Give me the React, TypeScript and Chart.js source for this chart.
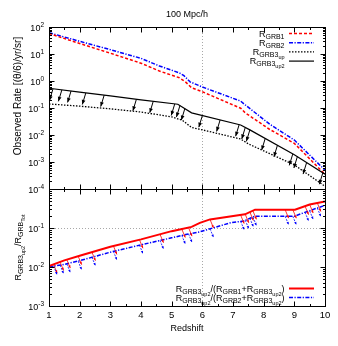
import React, { useEffect, useRef } from 'react';
import { Chart, registerables } from 'chart.js';

Chart.register(...registerables);

// ---------- data ----------
const zGrb1 = [1, 2, 3, 4, 4.6, 5.25, 5.45, 5.65, 6, 7.25, 7.4, 8.2, 9.0, 10];
const rGrb1 = [57.5, 24.5, 10.7, 4.57, 2.34, 1.32, 0.93, 0.56, 0.40, 0.098, 0.066, 0.016, 0.0049, 0.00035];

const zGrb2 = [1, 2, 3, 4, 4.6, 5.25, 5.4, 5.6, 6, 7.25, 7.4, 8.2, 9.0, 10];
const rGrb2 = [61.7, 29.5, 14.5, 6.9, 3.6, 2.0, 1.58, 0.93, 0.60, 0.18, 0.13, 0.025, 0.0065, 0.0005];

const zGrb3up = [1, 2, 3, 4, 5.0, 5.35, 5.65, 6, 7.25, 7.5, 9.0, 10];
const rGrb3up = [0.141, 0.117, 0.093, 0.071, 0.047, 0.035, 0.019, 0.0155, 0.0071, 0.0047, 0.00078, 0.000126];

const zGrb3up2 = [1, 2, 3, 4, 5.2, 5.65, 7.25, 7.55, 9.0, 10];
const rGrb3up2 = [0.54, 0.39, 0.28, 0.20, 0.138, 0.066, 0.0234, 0.0155, 0.00186, 0.000355];

// upper-limit arrows hanging from R_GRB3_up2
const zLimTop = [1.13, 1.42, 1.72, 2.2, 2.8, 3.85, 4.4, 5.1, 5.27, 5.43, 6.0, 6.58, 7.2, 7.4, 7.55, 8.05, 8.45, 8.95, 9.1, 9.4, 9.93];
const rLimTop = [0.51, 0.47, 0.43, 0.36, 0.30, 0.21, 0.178, 0.141, 0.123, 0.095, 0.052, 0.036, 0.024, 0.019, 0.0155, 0.0074, 0.0042, 0.0020, 0.0016, 0.00095, 0.0004];

// ratio panel
const zRatio1 = [1, 1.5, 2, 3, 4, 5, 5.3, 5.65, 5.92, 6.25, 7.39, 7.72, 9.02, 9.5, 10];
const ratio1 = [0.0105, 0.0148, 0.0195, 0.033, 0.051, 0.083, 0.093, 0.107, 0.135, 0.166, 0.224, 0.295, 0.295, 0.40, 0.48];

const zRatio2 = [1, 1.5, 2, 3, 4, 5, 5.5, 5.9, 6.9, 7.35, 7.7, 9.0, 9.45, 10];
const ratio2 = [0.0100, 0.0117, 0.0145, 0.024, 0.037, 0.056, 0.069, 0.079, 0.135, 0.151, 0.20, 0.20, 0.27, 0.38];

const zLimBot = [1.15, 1.36, 1.58, 1.95, 2.4, 3.1, 3.95, 4.62, 5.33, 5.55, 6.25, 7.25, 7.4, 7.55, 7.65, 8.7, 8.95, 9.35, 9.5, 9.75];
const limRatio1 = [0.0116, 0.0135, 0.0155, 0.019, 0.024, 0.0347, 0.050, 0.069, 0.094, 0.102, 0.166, 0.214, 0.224, 0.257, 0.275, 0.295, 0.295, 0.363, 0.40, 0.437];
const limRatio2 = [0.0105, 0.0112, 0.012, 0.0141, 0.0178, 0.0251, 0.0363, 0.0479, 0.0646, 0.0708, 0.0955, 0.148, 0.158, 0.178, 0.19, 0.20, 0.20, 0.251, 0.275, 0.324];

// ticks
const xMajor = [1, 2, 3, 4, 5, 6, 7, 8, 9, 10];
const xMinor = [1.5, 2.5, 3.5, 4.5, 5.5, 6.5, 7.5, 8.5, 9.5];
const topDecades = [2, 1, 0, -1, -2, -3, -4];
const botDecades = [0, -1, -2, -3];
const botLabelled = [-1, -2, -3];
const refZ = 6;
const refRatio = 0.1;

const TITLE = '100 Mpc/h';
const X_TITLE = 'Redshift';
const Y_TITLE_TOP = 'Observed Rate [(θ/6)/yr/sr]';

// ---------- text helpers ----------
const FONT = '"Liberation Sans", Arial, Helvetica, sans-serif';
type Seg = [string, number, number];
const M = (t: string): Seg => [t, 9, 0];
const S1 = (t: string): Seg => [t, 7, 2.2];
const S2 = (t: string): Seg => [t, 5.5, 4.2];

const lblGrb1: Seg[] = [M('R'), S1('GRB1')];
const lblGrb2: Seg[] = [M('R'), S1('GRB2')];
const lblGrb3up: Seg[] = [M('R'), S1('GRB3'), S2('up')];
const lblGrb3up2: Seg[] = [M('R'), S1('GRB3'), S2('up2')];
const lblRatio1: Seg[] = [M('R'), S1('GRB3'), S2('up2'), M('/('), M('R'), S1('GRB1'), M('+'), M('R'), S1('GRB3'), S2('up2'), M(')')];
const lblRatio2: Seg[] = [M('R'), S1('GRB3'), S2('up2'), M('/('), M('R'), S1('GRB2'), M('+'), M('R'), S1('GRB3'), S2('up2'), M(')')];
const lblYBot: Seg[] = [M('R'), S1('GRB3'), S2('up2'), M('/'), M('R'), S1('GRB'), S2('Tot')];

function richWidth(ctx: CanvasRenderingContext2D, segs: Seg[]) {
  let w = 0;
  for (const [t, s] of segs) {
    ctx.font = `${s}px ${FONT}`;
    w += ctx.measureText(t).width;
  }
  return w;
}
function drawRich(ctx: CanvasRenderingContext2D, segs: Seg[], x: number, y: number, align: 'left' | 'right' | 'center') {
  const w = richWidth(ctx, segs);
  let cx = align === 'right' ? x - w : align === 'center' ? x - w / 2 : x;
  ctx.textAlign = 'left';
  ctx.textBaseline = 'alphabetic';
  for (const [t, s, dy] of segs) {
    ctx.font = `${s}px ${FONT}`;
    ctx.fillText(t, cx, y + dy);
    cx += ctx.measureText(t).width;
  }
}
function seg(ctx: CanvasRenderingContext2D, x0: number, y0: number, x1: number, y1: number) {
  ctx.beginPath();
  ctx.moveTo(x0, y0);
  ctx.lineTo(x1, y1);
  ctx.stroke();
}
function arrow(ctx: CanvasRenderingContext2D, x0: number, y0: number, x1: number, y1: number, head: number, dash: number[]) {
  ctx.setLineDash(dash);
  seg(ctx, x0, y0, x1, y1);
  ctx.setLineDash([]);
  const a = Math.atan2(y1 - y0, x1 - x0);
  const hw = head * 0.42;
  const bx = x1 - head * Math.cos(a);
  const by = y1 - head * Math.sin(a);
  const nx = -Math.sin(a);
  const ny = Math.cos(a);
  ctx.beginPath();
  ctx.moveTo(x1, y1);
  ctx.lineTo(bx + nx * hw, by + ny * hw);
  ctx.lineTo(bx - nx * hw, by - ny * hw);
  ctx.closePath();
  ctx.fill();
}

const mk = (zs: number[], vs: number[]) => zs.map((z, i) => ({ x: z, y: vs[i] }));

const DASH_RED = [3, 2];
const DASH_BLUE = [4, 1.5, 1.2, 1.5];
const DASH_DOT = [1.5, 1.5];

const framePlugin = {
  id: 'gnuplotFrame',
  beforeDatasetsDraw(chart: any) {
    const ctx: CanvasRenderingContext2D = chart.ctx;
    const x = chart.scales.x;
    const yT = chart.scales.yTop;
    const yB = chart.scales.yBot;
    const { left, right } = chart.chartArea;
    ctx.save();
    ctx.strokeStyle = '#a8a8a8';
    ctx.lineWidth = 1;
    ctx.setLineDash([1, 2]);
    const gx = Math.round(x.getPixelForValue(refZ)) + 0.5;
    seg(ctx, gx, yT.top, gx, yB.bottom);
    const gy = Math.round(yB.getPixelForValue(refRatio)) + 0.5;
    seg(ctx, left, gy, right, gy);
    ctx.restore();
  },
  afterDatasetsDraw(chart: any) {
    const ctx: CanvasRenderingContext2D = chart.ctx;
    const x = chart.scales.x;
    const yT = chart.scales.yTop;
    const yB = chart.scales.yBot;
    const { left, right } = chart.chartArea;
    ctx.save();

    // upper-limit arrows, top panel
    ctx.strokeStyle = '#000';
    ctx.fillStyle = '#000';
    ctx.lineWidth = 1;
    zLimTop.forEach((z, i) => {
      const px = x.getPixelForValue(z);
      const py = yT.getPixelForValue(rLimTop[i]);
      arrow(ctx, px, py, px - 3.5, py + 11.5, 4.5, []);
    });
    // upper-limit arrows, ratio panel
    ctx.lineWidth = 0.8;
    ctx.strokeStyle = '#ff0000';
    ctx.fillStyle = '#ff0000';
    zLimBot.forEach((z, i) => {
      const px = x.getPixelForValue(z);
      const py = yB.getPixelForValue(limRatio1[i]);
      arrow(ctx, px, py, px + 3.5, py + 8.5, 2.8, []);
    });
    ctx.strokeStyle = '#0000ff';
    ctx.fillStyle = '#0000ff';
    zLimBot.forEach((z, i) => {
      const px = x.getPixelForValue(z);
      const py = yB.getPixelForValue(limRatio2[i]);
      arrow(ctx, px, py, px + 3.5, py + 8.5, 2.8, [2, 1.2]);
    });

    // frames
    ctx.strokeStyle = '#000';
    ctx.lineWidth = 1;
    ctx.setLineDash([]);
    const L = Math.round(left) + 0.5;
    const R = Math.round(right) + 0.5;
    const tT = Math.round(yT.top) + 0.5;
    const tB = Math.round(yT.bottom) + 0.5;
    const bB = Math.round(yB.bottom) + 0.5;
    ctx.strokeRect(L, tT, R - L, tB - tT);
    ctx.strokeRect(L, tB, R - L, bB - tB);

    // x ticks (inward, on every horizontal border)
    const xt = (v: number, len: number) => {
      const px = Math.round(x.getPixelForValue(v)) + 0.5;
      seg(ctx, px, tT, px, tT + len);
      seg(ctx, px, tB, px, tB - len);
      seg(ctx, px, tB, px, tB + len);
      seg(ctx, px, bB, px, bB - len);
    };
    xMajor.forEach((v) => xt(v, 5));
    xMinor.forEach((v) => xt(v, 2.5));

    // y ticks (log, inward on both sides)
    const yt = (scale: any, decades: number[]) => {
      decades.forEach((d) => {
        for (let k = 1; k <= 9; k++) {
          const v = k * Math.pow(10, d);
          if (v < scale.min * 0.999 || v > scale.max * 1.001) continue;
          const py = Math.round(scale.getPixelForValue(v)) + 0.5;
          const len = k === 1 ? 5 : 2.5;
          seg(ctx, L, py, L + len, py);
          seg(ctx, R, py, R - len, py);
        }
      });
    };
    yt(yT, topDecades);
    yt(yB, botDecades);

    // tick labels
    ctx.fillStyle = '#000';
    topDecades.forEach((d) => {
      const py = yT.getPixelForValue(Math.pow(10, d));
      drawRich(ctx, [M('10'), [String(d), 6.5, -4.5]], 44, py + 4, 'right');
    });
    botLabelled.forEach((d) => {
      const py = yB.getPixelForValue(Math.pow(10, d));
      drawRich(ctx, [M('10'), [String(d), 6.5, -4.5]], 44, py + 4, 'right');
    });
    ctx.font = `9.5px ${FONT}`;
    ctx.textAlign = 'center';
    ctx.textBaseline = 'alphabetic';
    xMajor.forEach((v) => {
      ctx.fillText(String(v), x.getPixelForValue(v), 317.5);
    });

    // titles
    ctx.font = `9px ${FONT}`;
    ctx.fillText(X_TITLE, (left + right) / 2, 331);
    ctx.fillText(TITLE, (left + right) / 2, 17);

    ctx.save();
    ctx.translate(20.5, 96);
    ctx.rotate(-Math.PI / 2);
    ctx.font = `10px ${FONT}`;
    ctx.textAlign = 'center';
    ctx.fillText(Y_TITLE_TOP, 0, 0);
    ctx.restore();

    ctx.save();
    ctx.translate(20.5, (yB.top + yB.bottom) / 2);
    ctx.rotate(-Math.PI / 2);
    drawRich(ctx, lblYBot, 0, 0, 'center');
    ctx.restore();

    // legends
    const keyX0 = 289;
    const keyX1 = 314;
    const keyTextX = 284.5;
    const keyTop: [Seg[], string, number[], number][] = [
      [lblGrb1, '#ff0000', DASH_RED, 1.5],
      [lblGrb2, '#0000ff', DASH_BLUE, 1.5],
      [lblGrb3up, '#000000', DASH_DOT, 1.3],
      [lblGrb3up2, '#000000', [], 1.2],
    ];
    keyTop.forEach(([lbl, col, dash, w], i) => {
      const yy = 33.5 + i * 9.2;
      ctx.fillStyle = '#000';
      drawRich(ctx, lbl, keyTextX, yy + 3, 'right');
      ctx.strokeStyle = col;
      ctx.lineWidth = w;
      ctx.setLineDash(dash);
      seg(ctx, keyX0, yy, keyX1, yy);
      ctx.setLineDash([]);
    });
    const keyBot: [Seg[], string, number[], number][] = [
      [lblRatio1, '#ff0000', [], 2],
      [lblRatio2, '#0000ff', DASH_BLUE, 1.5],
    ];
    keyBot.forEach(([lbl, col, dash, w], i) => {
      const yy = 288.5 + i * 9;
      ctx.fillStyle = '#000';
      drawRich(ctx, lbl, keyTextX, yy + 3, 'right');
      ctx.strokeStyle = col;
      ctx.lineWidth = w;
      ctx.setLineDash(dash);
      seg(ctx, keyX0, yy, keyX1, yy);
      ctx.setLineDash([]);
    });
    ctx.restore();
  },
};

export default function App() {
  const ref = useRef<HTMLCanvasElement>(null);
  useEffect(() => {
    const line = (data: any, axis: string, color: string, width: number, dash: number[]) => ({
      data,
      yAxisID: axis,
      borderColor: color,
      backgroundColor: color,
      borderWidth: width,
      borderDash: dash,
      pointRadius: 0,
      fill: false,
      tension: 0,
    });
    const chart = new Chart(ref.current as HTMLCanvasElement, {
      type: 'line',
      data: {
        datasets: [
          line(mk(zGrb3up, rGrb3up), 'yTop', '#000000', 1.3, DASH_DOT),
          line(mk(zGrb3up2, rGrb3up2), 'yTop', '#000000', 1.2, []),
          line(mk(zGrb1, rGrb1), 'yTop', '#ff0000', 1.5, DASH_RED),
          line(mk(zGrb2, rGrb2), 'yTop', '#0000ff', 1.5, DASH_BLUE),
          line(mk(zRatio1, ratio1), 'yBot', '#ff0000', 2, []),
          line(mk(zRatio2, ratio2), 'yBot', '#0000ff', 1.5, DASH_BLUE),
        ] as any,
      },
      options: {
        animation: false,
        responsive: false,
        devicePixelRatio: 1,
        events: [],
        layout: { padding: { left: 49, right: 13, top: 27, bottom: 40 } },
        plugins: {
          legend: { display: false },
          tooltip: { enabled: false },
          title: { display: false },
        },
        scales: {
          x: { type: 'linear', min: 1, max: 10, display: false },
          yBot: { type: 'logarithmic', min: 1e-3, max: 1, display: false, position: 'left', stack: 'v', stackWeight: 117 },
          yTop: { type: 'logarithmic', min: 1e-4, max: 100, display: false, position: 'left', stack: 'v', stackWeight: 162 },
        } as any,
      },
      plugins: [framePlugin],
    });
    return () => chart.destroy();
  }, []);
  return (
    <div style={{ position: 'fixed', left: 0, top: 0, width: 338, height: 346, background: '#fff' }}>
      <canvas ref={ref} width={338} height={346} style={{ display: 'block', width: 338, height: 346 }} />
    </div>
  );
}
